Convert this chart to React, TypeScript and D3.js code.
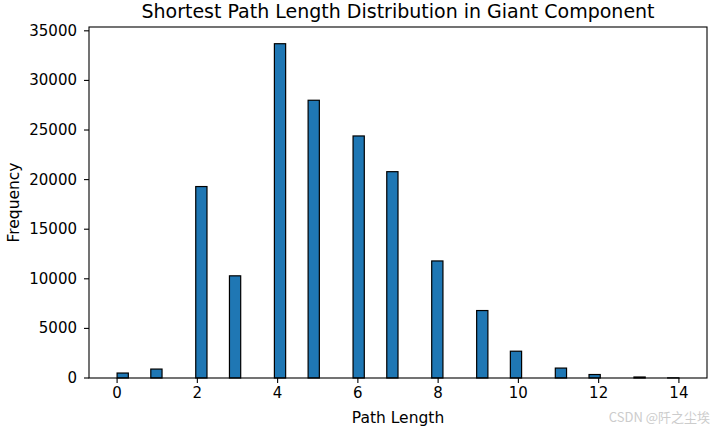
import React from "react";
import * as d3 from "d3";

const pathLengths = [0, 1, 2, 3, 4, 5, 6, 7, 8, 9, 10, 11, 12, 13, 14];
const frequencies = [500, 900, 19300, 10300, 33700, 28000, 24400, 20800, 11800, 6800, 2700, 1000, 350, 100, 15];
const xTicks = [0, 2, 4, 6, 8, 10, 12, 14];
const yTicks = [0, 5000, 10000, 15000, 20000, 25000, 30000, 35000];
const binCount = 50;
const title = "Shortest Path Length Distribution in Giant Component";
const xLabel = "Path Length";
const yLabel = "Frequency";

export default function App() {
  const W = 720, H = 431;
  const left = 89, right = 707, top = 27, bottom = 378;
  const xMin = 0, xMax = 14;
  const pad = (xMax - xMin) * 0.05;
  const x = d3.scaleLinear().domain([xMin - pad, xMax + pad]).range([left, right]);
  const yMaxData = d3.max(frequencies)!;
  const y = d3.scaleLinear().domain([0, yMaxData * 1.05]).range([bottom, top]);
  const binW = (xMax - xMin) / binCount;
  const bars = pathLengths.map((v, i) => {
    let b = Math.floor((v - xMin) / binW);
    if (b >= binCount) b = binCount - 1;
    return { x0: xMin + b * binW, x1: xMin + (b + 1) * binW, f: frequencies[i] };
  });
  const font = "DejaVu Sans, sans-serif";
  return (
    <svg width={W} height={H} style={{ position: "absolute", left: 0, top: 0, background: "#fff" }} fontFamily={font}>
      <rect x={0} y={0} width={W} height={H} fill="#fff" />
      {bars.map((b, i) => (
        <rect key={i} x={x(b.x0)} y={y(b.f)} width={x(b.x1) - x(b.x0)} height={y(0) - y(b.f)}
          fill="#1f77b4" stroke="#000" strokeWidth={1.2} />
      ))}
      <rect x={left} y={top} width={right - left} height={bottom - top} fill="none" stroke="#000" strokeWidth={1.1} />
      {xTicks.map((t) => (
        <g key={t}>
          <line x1={x(t)} x2={x(t)} y1={bottom} y2={bottom + 5} stroke="#000" strokeWidth={1.1} />
          <text x={x(t)} y={bottom + 20} textAnchor="middle" fontSize={15} fill="#000">{t}</text>
        </g>
      ))}
      {yTicks.map((t) => (
        <g key={t}>
          <line x1={left - 5} x2={left} y1={y(t)} y2={y(t)} stroke="#000" strokeWidth={1.1} />
          <text x={left - 12} y={y(t) + 5} textAnchor="end" fontSize={15} fill="#000">{t}</text>
        </g>
      ))}
      <text x={(left + right) / 2} y={18} textAnchor="middle" fontSize={19} fill="#000">{title}</text>
      <text x={(left + right) / 2} y={423} textAnchor="middle" fontSize={15.5} fill="#000">{xLabel}</text>
      <text transform={`translate(19,${(top + bottom) / 2}) rotate(-90)`} textAnchor="middle" fontSize={15.5} fill="#000">{yLabel}</text>
      <text x={710} y={422} textAnchor="end" fontSize={13} fill="#cccccc" fontFamily="Noto Sans CJK SC, sans-serif">CSDN @阡之尘埃</text>
    </svg>
  );
}
